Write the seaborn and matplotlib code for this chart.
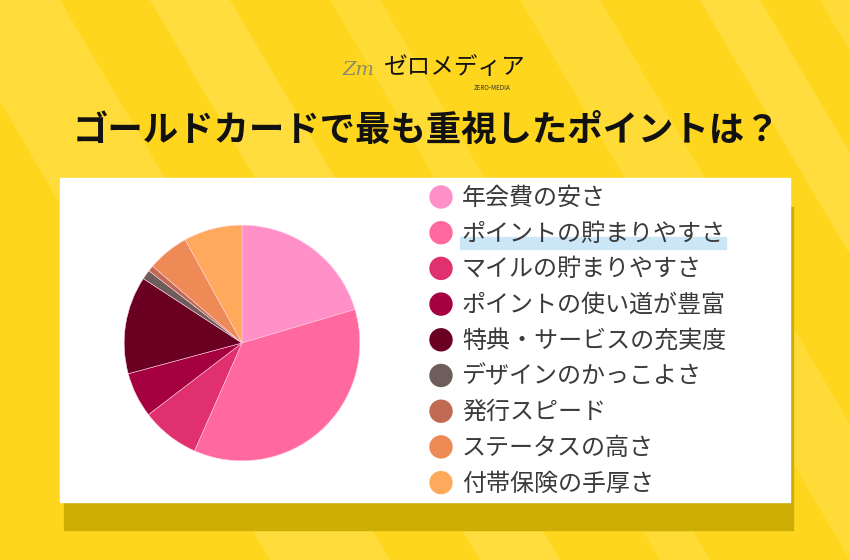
import matplotlib
matplotlib.use("Agg")
import matplotlib.pyplot as plt
import matplotlib.patches as mpatches
import seaborn as sns

# data (share of answers, %)
labels = [
    "年会費の安さ",
    "ポイントの貯まりやすさ",
    "マイルの貯まりやすさ",
    "ポイントの使い道が豊富",
    "特典・サービスの充実度",
    "デザインのかっこよさ",
    "発行スピード",
    "ステータスの高さ",
    "付帯保険の手厚さ",
]
shares = [20.4, 36.2, 8.0, 6.2, 13.4, 1.3, 0.8, 5.7, 8.0]
colors = ["#FF90C8", "#FF69A0", "#E0306E", "#A5003F", "#6A0022",
          "#6D5E5C", "#C06A52", "#EE8A55", "#FFA95C"]

title = "ゴールドカードで最も重視したポイントは？"

sns.set_style("white")
plt.rcParams["font.family"] = ["Noto Sans CJK JP", "DejaVu Sans"]

W, H = 850, 560
fig = plt.figure(figsize=(W / 100, H / 100), dpi=100)

# background canvas in pixel coordinates
bg = fig.add_axes([0, 0, 1, 1])
bg.set_xlim(0, W)
bg.set_ylim(H, 0)
bg.axis("off")
bg.add_patch(mpatches.Rectangle((0, 0), W, H, color="#FFD61E", zorder=0))

# soft diagonal stripes
stripes = [(-60, 60, 0.22), (150, 230, 0.25), (330, 380, 0.18),
           (520, 600, 0.2), (700, 760, 0.25), (820, 900, 0.2)]
for x0, x1, a in stripes:
    bg.add_patch(mpatches.Polygon(
        [(x0, 0), (x1, 0), (x1 + 330, H), (x0 + 330, H)],
        closed=True, color="#FFF3A0", alpha=a, lw=0, zorder=1))

# panel shadow and white panel
bg.add_patch(mpatches.Rectangle((64, 207), 729, 323, color="#CDAE05", zorder=2))
bg.add_patch(mpatches.Rectangle((60, 178), 730, 324, color="white", zorder=3))

# logo
bg.text(343, 70, "Zm", fontsize=14, color="#8A8A70", style="italic",
        ha="left", va="center", family=["DejaVu Serif"], zorder=4)
bg.text(384, 68, "ゼロメディア", fontsize=17, color="#111111", ha="left",
        va="center", style="italic", zorder=4)
bg.text(492, 88, "ZERO-MEDIA", fontsize=4.5, color="#333333", ha="center",
        va="center", zorder=4)

# title
bg.text(426, 130, title, fontsize=25.5, fontweight="bold", color="#111111",
        ha="center", va="center", zorder=4)

# legend
y0, dy = 197, 35.7
bg.add_patch(mpatches.Rectangle((460, 237), 266, 12, color="#CBE6F7", zorder=4))
for i, (lab, col) in enumerate(zip(labels, colors)):
    y = y0 + i * dy
    bg.add_patch(mpatches.Circle((441, y), 11, color=col, zorder=5))
    bg.text(462, y + 1, lab, fontsize=17.3, color="#3A3A3A", ha="left",
            va="center", zorder=5)

# pie
cx, cy, r = 242, 343, 119
ax = fig.add_axes([(cx - r) / W, (H - cy - r) / H, 2 * r / W, 2 * r / H])
palette = sns.color_palette(colors)
ax.pie(shares, colors=palette, startangle=90, counterclock=False,
       wedgeprops=dict(linewidth=0.4, edgecolor="#FFD0E0"))
ax.set_xlim(-1.01, 1.01)
ax.set_ylim(-1.01, 1.01)
ax.axis("off")

fig.savefig("out.png", dpi=100)
